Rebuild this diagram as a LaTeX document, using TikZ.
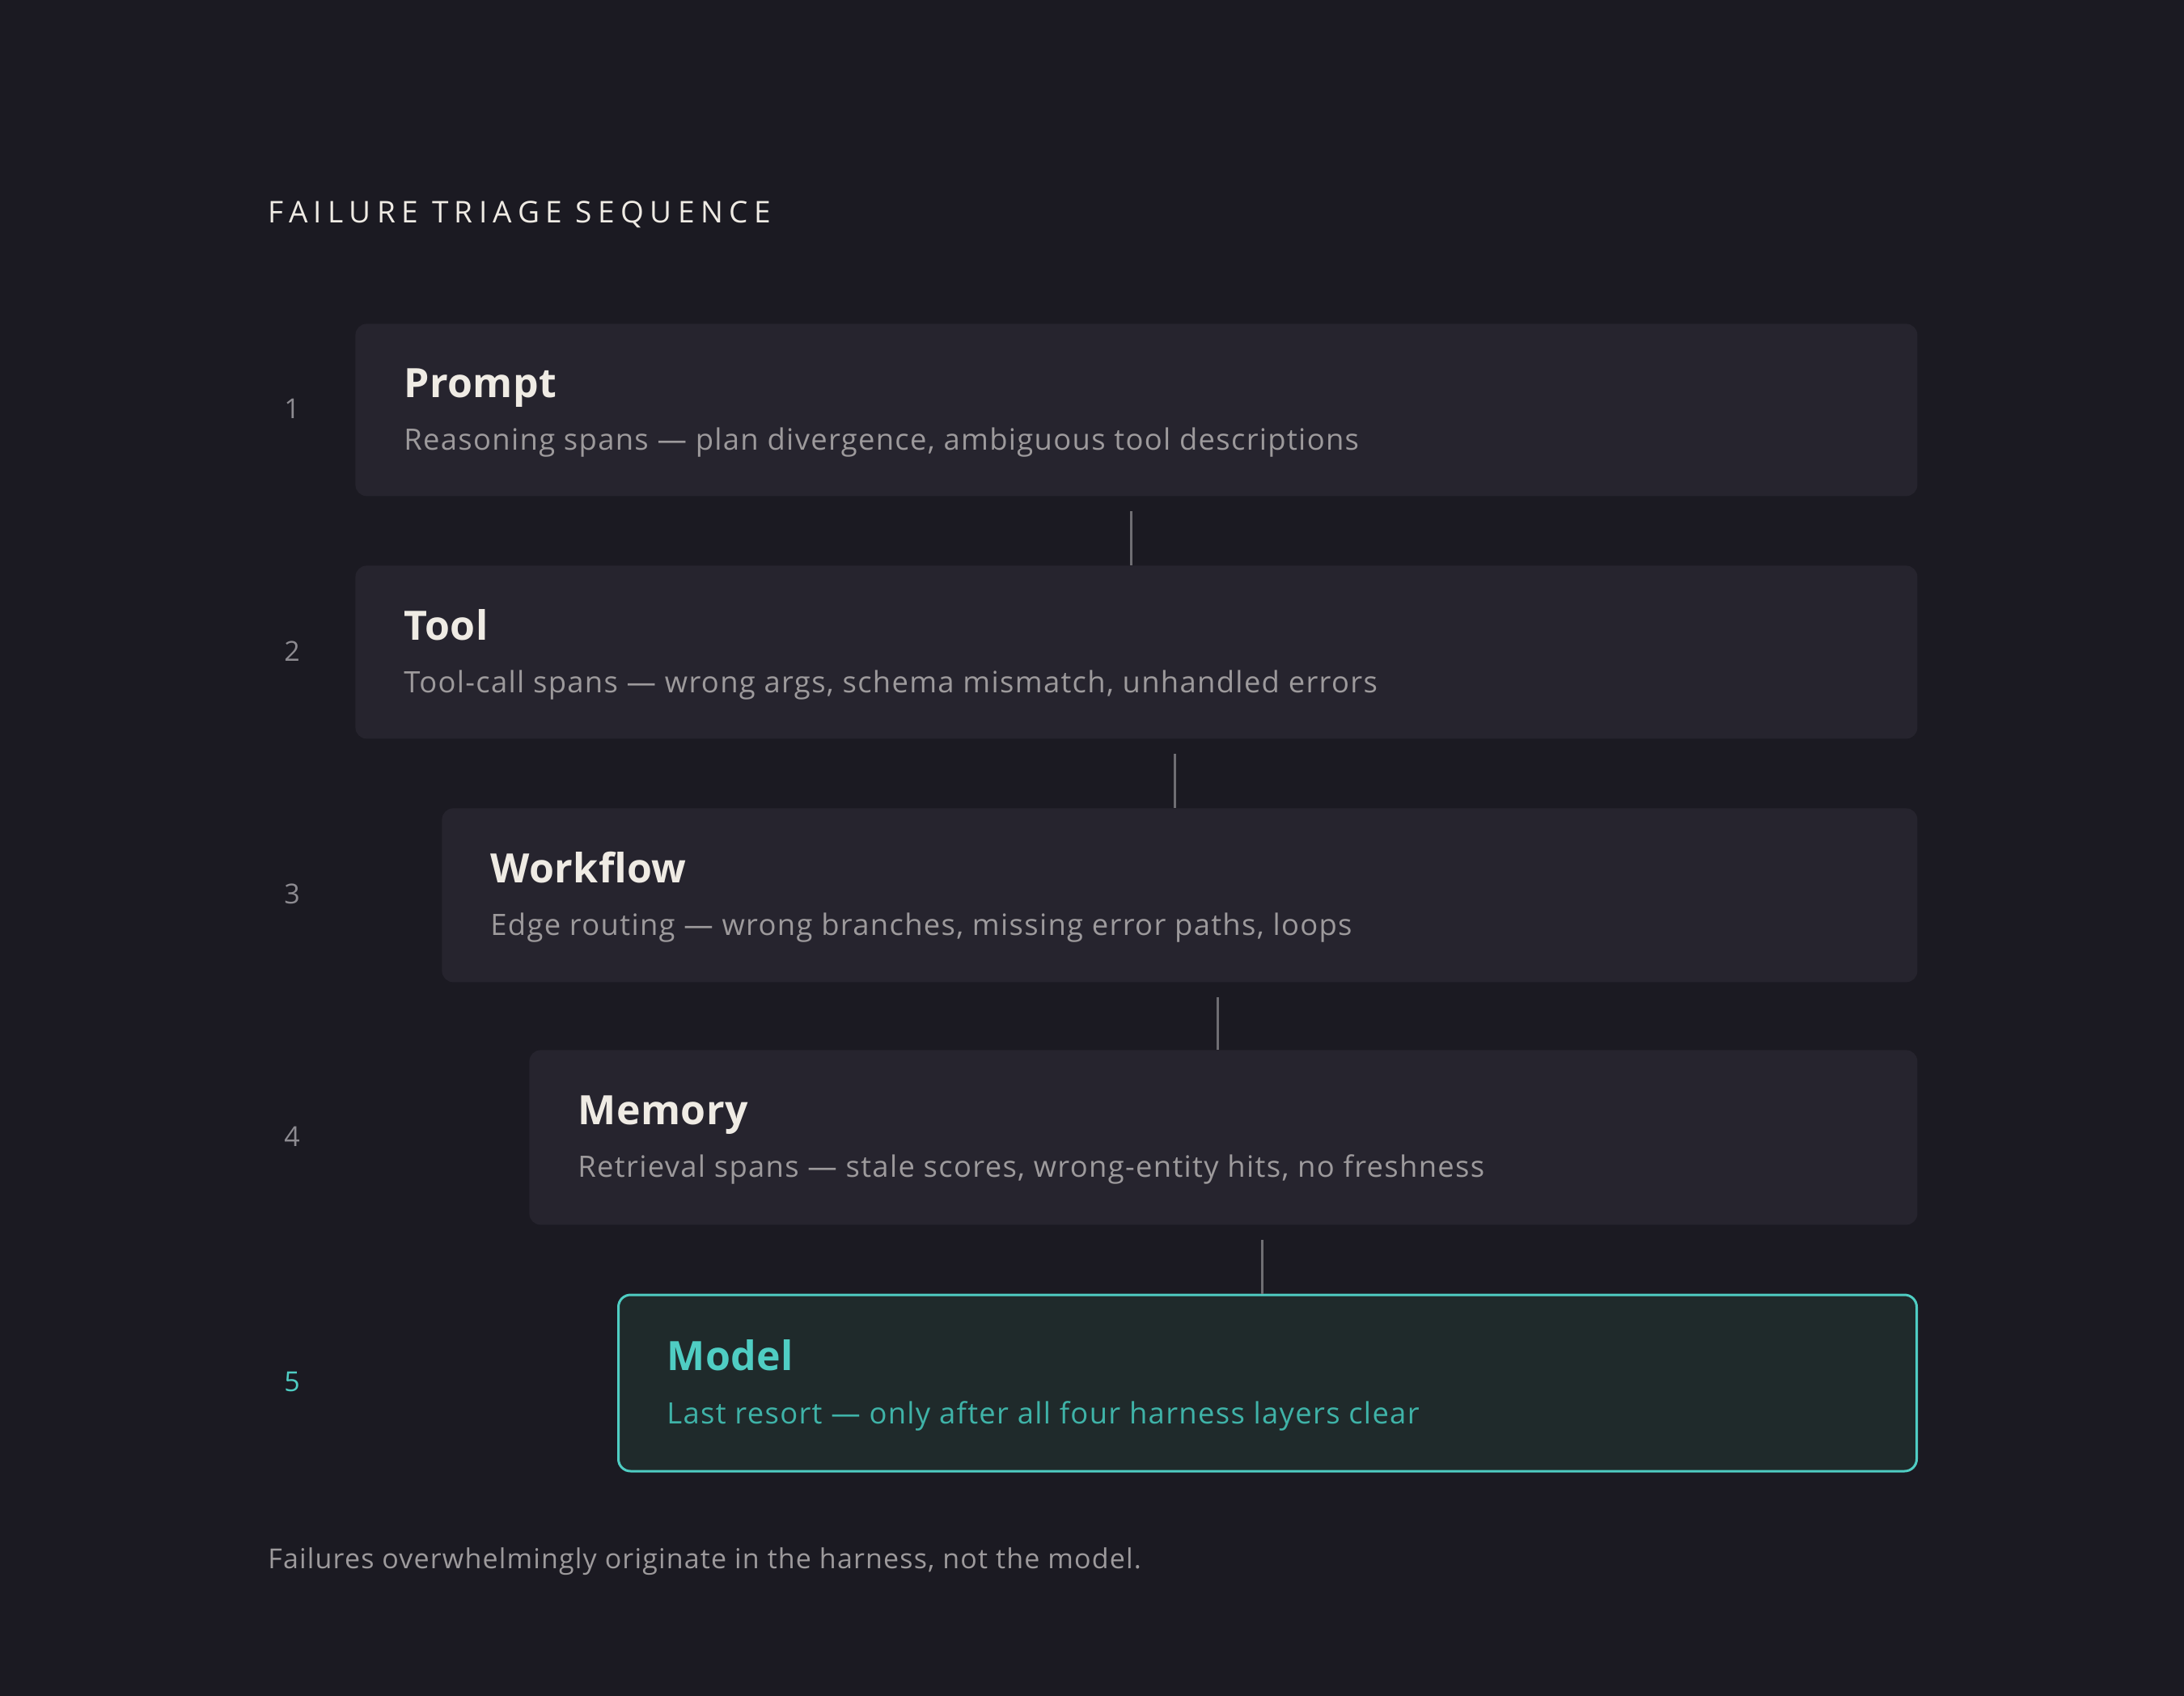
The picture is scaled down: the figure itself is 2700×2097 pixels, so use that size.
\documentclass[tikz,border=0pt]{standalone}
\usepackage{fontspec}
\setmainfont{Open Sans}
\definecolor{bg}{HTML}{1B1A22}
\definecolor{boxc}{HTML}{26242E}
\definecolor{cream}{HTML}{EFEBE4}
\definecolor{subgray}{HTML}{9D9A9C}
\definecolor{numgray}{HTML}{8D8B91}
\definecolor{conn}{HTML}{6F6E73}
\definecolor{teal}{HTML}{4FCDC3}
\definecolor{tealfill}{HTML}{1F2A2B}
\definecolor{tealsub}{HTML}{3FB3A8}
\tikzset{
  layer/.style={fill=boxc, rounded corners=7pt, anchor=north west, inner sep=0pt},
  lastlayer/.style={fill=tealfill, draw=teal, line width=1.5pt, rounded corners=7.5pt, anchor=north west, inner sep=0pt},
  ltitle/.style={anchor=base west, inner sep=0pt, text=cream, font=\fontsize{25}{30}\selectfont\bfseries\addfontfeature{LetterSpace=1}},
  lsub/.style={anchor=base west, inner sep=0pt, text=subgray, font=\fontsize{18.2}{22}\selectfont\addfontfeature{LetterSpace=3.6}},
  lnum/.style={anchor=base, inner sep=0pt, text=numgray, font=\fontsize{17}{20}\selectfont},
  link/.style={draw=conn, line width=1.5pt},
}
\begin{document}
\begin{tikzpicture}[x=0.5pt,y=-0.5pt]
\useasboundingbox[fill=bg] (0,0) rectangle (2700,2097);
\node[anchor=base west, inner sep=0pt, text=cream, font=\fontsize{18.5}{22}\selectfont\addfontfeature{LetterSpace=20}] (head) at (331,276) {FAILURE TRIAGE SEQUENCE};
% boxes
\node[layer, minimum width={1931*0.5pt}, minimum height={213*0.5pt}] (b1) at (439,400) {};
\node[layer, minimum width={1931*0.5pt}, minimum height={214*0.5pt}] (b2) at (439,699) {};
\node[layer, minimum width={1824*0.5pt}, minimum height={215*0.5pt}] (b3) at (546,999) {};
\node[layer, minimum width={1716*0.5pt}, minimum height={216*0.5pt}] (b4) at (654,1298) {};
\node[lastlayer, minimum width={1605*0.5pt}, minimum height={218*0.5pt}] (b5) at (763,1599.5) {};
% titles
\node[ltitle] (t1) at (499,492) {Prompt};
\node[lsub] (s1) at (499,557) {Reasoning spans — plan divergence, ambiguous tool descriptions};
\node[ltitle] (t2) at (499,791) {Tool};
\node[lsub] (s2) at (499,856) {Tool-call spans — wrong args, schema mismatch, unhandled errors};
\node[ltitle] (t3) at (606,1091) {Workflow};
\node[lsub] (s3) at (606,1156) {Edge routing — wrong branches, missing error paths, loops};
\node[ltitle] (t4) at (714,1390) {Memory};
\node[lsub] (s4) at (714,1455) {Retrieval spans — stale scores, wrong-entity hits, no freshness};
\node[ltitle, text=teal] (t5) at (824,1694) {Model};
\node[lsub, text=tealsub] (s5) at (824,1760) {Last resort — only after all four harness layers clear};
% numbers
\node[lnum] (n1) at (361,517) {1};
\node[lnum] (n2) at (361,817) {2};
\node[lnum] (n3) at (361,1117) {3};
\node[lnum] (n4) at (361,1417) {4};
\node[lnum, text=teal] (n5) at (361,1720) {5};
% connectors
\coordinate (c1) at (1398,632);
\coordinate (c2) at (1452,932);
\coordinate (c3) at (1505,1233);
\coordinate (c4) at (1560,1533);
\draw[link] (c1) -- (c1 |- b2.north);
\draw[link] (c2) -- (c2 |- b3.north);
\draw[link] (c3) -- (c3 |- b4.north);
\draw[link] (c4) -- (c4 |- b5.north);
% footer
\node[anchor=base west, inner sep=0pt, text=subgray, font=\fontsize{17}{20}\selectfont\addfontfeature{LetterSpace=3.4}] (foot) at (331,1939) {Failures overwhelmingly originate in the harness, not the model.};
\end{tikzpicture}
\end{document}
